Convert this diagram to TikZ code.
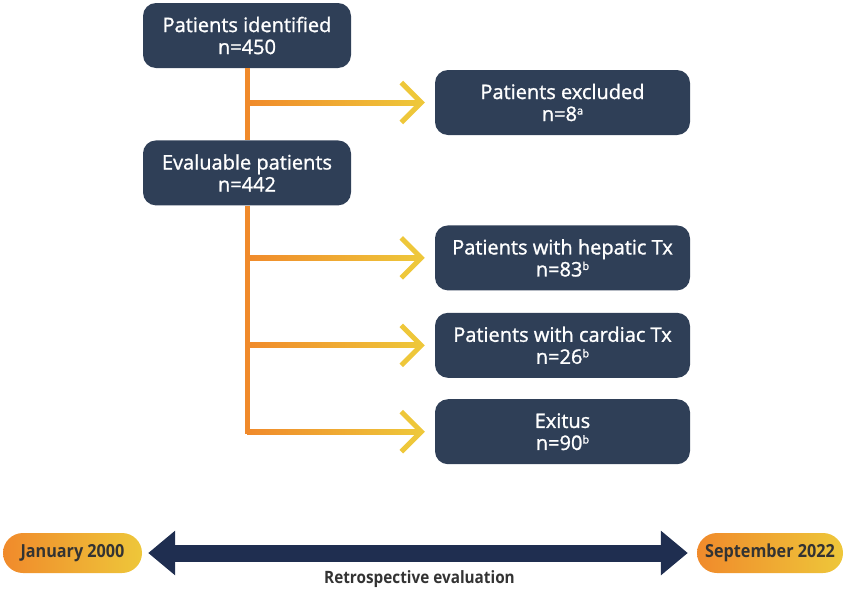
\documentclass[tikz,border=0pt]{standalone}
\usepackage{fontspec}
\setmainfont{Open Sans}
\newfontfamily\boxfont[FakeBold=1.2]{Open Sans}
\newfontfamily\narrowfont[FakeStretch=0.9]{Open Sans}
\newfontfamily\retrofont[FakeStretch=0.9]{Open Sans}
\usetikzlibrary{positioning,arrows.meta}

\definecolor{boxblue}{HTML}{2F3F57}
\definecolor{flowor}{HTML}{F08A2B}
\definecolor{flowye}{HTML}{EEC73A}
\definecolor{timenavy}{HTML}{1F2E50}
\definecolor{pilltext}{HTML}{333333}

\tikzset{
  box/.style={rectangle, rounded corners=13pt, fill=boxblue, text=white,
    minimum width=208pt, minimum height=65pt, inner sep=0pt, align=center,
    font=\boxfont\fontsize{20}{22}\selectfont},
  widebox/.style={box, minimum width=255pt},
  spine/.style={draw=flowor, line width=5pt},
  branchtip/.style={draw=flowye, line width=5pt,
    -{Straight Barb[length=20pt, width=40pt]}},
  pill/.style={rectangle, rounded corners=20pt, left color=flowor,
    right color=flowye, text=pilltext, minimum height=40pt, inner sep=0pt,
    font=\narrowfont\bfseries\fontsize{18}{20}\selectfont},
  timeline/.style={draw=timenavy, line width=17pt,
    {Triangle[length=27pt, width=43pt]}-{Triangle[length=27pt, width=43pt]}}
}

% orange branch with gradient shaft and yellow open head
\newcommand\branchto[2]{%
  \draw[branchtip] (#1) -- ([xshift=-10pt]#2.west);
  \shade[left color=flowor, right color=flowye]
    ([yshift=-2.5pt]#1) rectangle ([xshift=-16pt,yshift=2.5pt]#2.west);
}
\newcommand\sups[1]{\raisebox{0.6ex}{\fontsize{11}{11}\selectfont#1}}

\begin{document}
\begin{tikzpicture}[x=1pt, y=1pt]
\useasboundingbox (0,0) rectangle (846,-592);

\node[box] (ident) at (247,-35.5) {Patients identified\\n=450};
\node[box, below=72pt of ident] (eval) {Evaluable patients\\n=442};
%----------------------------------
\node[widebox] (excl) at (562.5,-102.5) {Patients excluded\\n=8\sups{a}};
\node[widebox, below=90pt of excl] (hep) {Patients with hepatic Tx\\n=83\sups{b}};
\node[widebox, below=22pt of hep] (card) {Patients with cardiac Tx\\n=26\sups{b}};
\node[widebox, below=21pt of card] (exitus) {Exitus\\n=90\sups{b}};
%----------------------------------
\coordinate (s1) at (ident.south |- excl.west);
\coordinate (s2) at (ident.south |- hep.west);
\coordinate (s3) at (ident.south |- card.west);
\coordinate (s4) at (ident.south |- exitus.west);

\draw[spine] (ident.south) -- (eval.north);
\draw[spine] (eval.south) -- ([yshift=-2.5pt]s4);
\branchto{s1}{excl}
\branchto{s2}{hep}
\branchto{s3}{card}
\branchto{s4}{exitus}
%---------------------------------
\node[pill, minimum width=139pt] (jan) at (72.5,-553) {January 2000};
\node[pill, minimum width=146pt] (sep) at (770,-553) {September 2022};
\draw[timeline, shorten <=6pt, shorten >=9pt] (jan) -- (sep)
  node[midway, below=6pt, text=pilltext,
    font=\retrofont\bfseries\fontsize{17}{19}\selectfont] (retro) {Retrospective evaluation};
\end{tikzpicture}
\end{document}
